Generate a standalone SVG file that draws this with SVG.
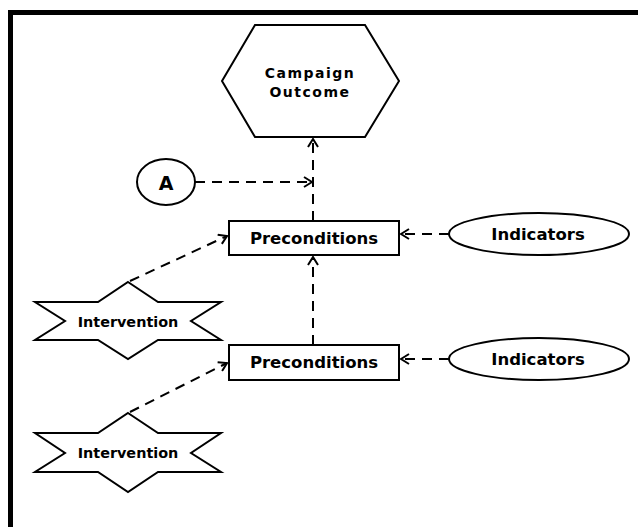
<svg xmlns="http://www.w3.org/2000/svg" width="638" height="527" viewBox="0 0 638 527">
  <style>
    .shape { fill: #ffffff; stroke: #000000; stroke-width: 2; stroke-linejoin: miter; }
    .lbl { font-family: "DejaVu Sans", Verdana, sans-serif; font-weight: bold; fill: #000000; text-anchor: middle; dominant-baseline: central; }
    .big { font-size: 16.5px; }
    .small { font-size: 14.4px; }
    .title { font-family: "DejaVu Sans", Verdana, sans-serif; font-weight: bold; font-size: 14px; letter-spacing: 1.5px; fill: #000000; text-anchor: middle; dominant-baseline: central; }
    .dash { fill: none; stroke: #000000; stroke-width: 2; stroke-dasharray: 10 7; marker-end: url(#open); }
  </style>
  <defs>
    <marker id="open" viewBox="0 0 10 12" refX="9" refY="6" markerWidth="10" markerHeight="12" markerUnits="userSpaceOnUse" orient="auto">
      <path d="M1,1 L9,6 L1,11" fill="none" stroke="#000000" stroke-width="2"/>
    </marker>
  </defs>

  <rect width="638" height="527" fill="#ffffff"/>
  <!-- outer frame, running off the right and bottom edges -->
  <rect x="10.5" y="12.5" width="700" height="600" fill="none" stroke="#000000" stroke-width="5"/>

  <g id="connectors">
    <path class="dash" d="M313,221 L313,139"/>
    <path class="dash" d="M313,345 L313,257"/>
    <path class="dash" d="M195,182 L312,182"/>
    <path class="dash" d="M449,234 L401,234"/>
    <path class="dash" d="M449,359 L401,359"/>
    <path class="dash" d="M130,281 L227,236"/>
    <path class="dash" d="M130,412 L227,363"/>
  </g>

  <g id="outcome">
    <polygon class="shape" points="255,25 365,25 399,81 365,137 255,137 222,81" stroke-width="2.5"/>
    <text class="title" x="310" y="73">Campaign</text>
    <text class="title" x="310" y="92">Outcome</text>
  </g>

  <g id="a">
    <ellipse class="shape" cx="166" cy="182" rx="29" ry="23"/>
    <text class="lbl" x="166" y="183" font-size="19">A</text>
  </g>

  <g id="preconditions-1">
    <rect class="shape" x="229" y="221" width="170" height="34"/>
    <text class="lbl big" x="314" y="238">Preconditions</text>
  </g>

  <g id="indicators-1">
    <ellipse class="shape" cx="539" cy="234" rx="90" ry="21"/>
    <text class="lbl big" x="538" y="234">Indicators</text>
  </g>

  <g id="intervention-1">
    <polygon class="shape" points="128,282 158,302 221,302 191,321 221,340 158,340 128,359 98,340 35,340 65,321 35,302 98,302"/>
    <text class="lbl small" x="128" y="322">Intervention</text>
  </g>

  <g id="preconditions-2">
    <rect class="shape" x="229" y="345" width="170" height="35"/>
    <text class="lbl big" x="314" y="362">Preconditions</text>
  </g>

  <g id="indicators-2">
    <ellipse class="shape" cx="539" cy="359" rx="90" ry="21"/>
    <text class="lbl big" x="538" y="359">Indicators</text>
  </g>

  <g id="intervention-2">
    <polygon class="shape" points="128,413 158,433 221,433 191,453 221,472 158,472 128,492 98,472 35,472 65,453 35,433 98,433"/>
    <text class="lbl small" x="128" y="453">Intervention</text>
  </g>
</svg>
